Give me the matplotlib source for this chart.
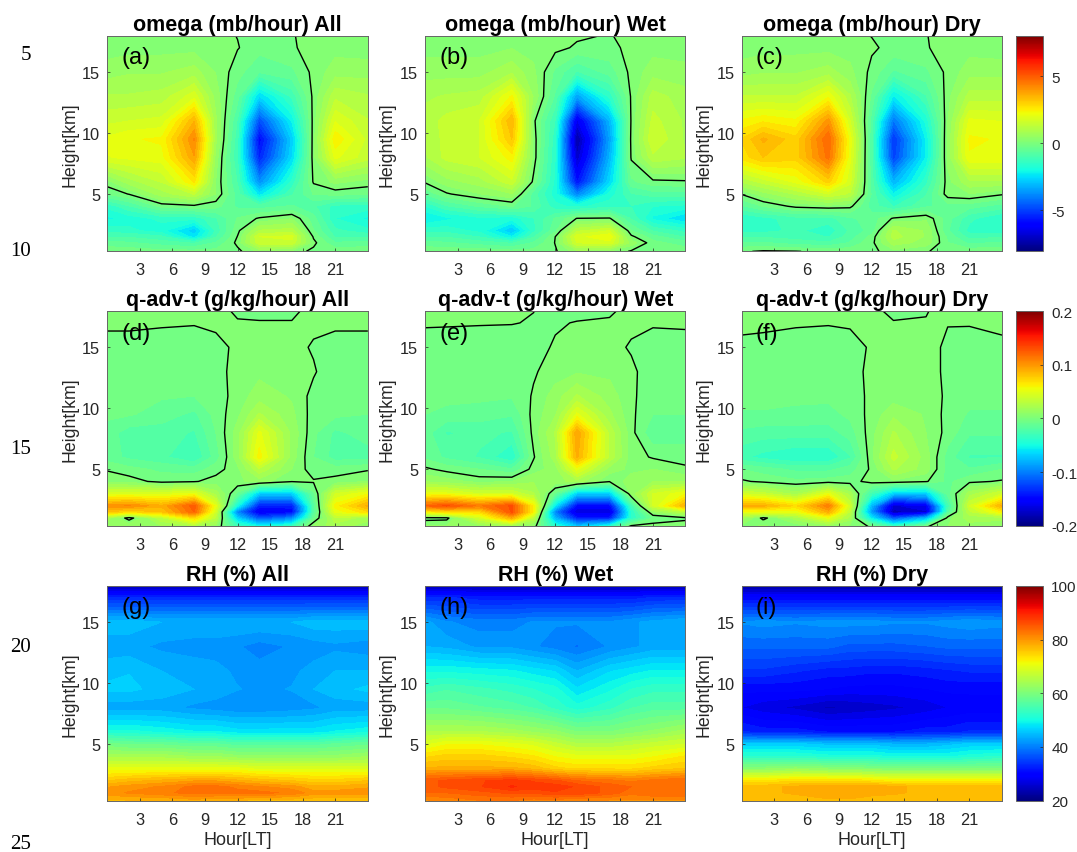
import numpy as np
import matplotlib
matplotlib.use("Agg")
import matplotlib.pyplot as plt
from matplotlib.cm import ScalarMappable
from matplotlib.colors import Normalize

plt.rcParams['font.family'] = ['Liberation Sans', 'DejaVu Sans']
plt.rcParams['axes.unicode_minus'] = False

hours = [0, 2, 5, 8, 10, 12, 14, 17, 19, 21, 24]
heights = [0.3, 1, 1.5, 2, 3, 4, 5, 6, 8, 9.5, 11, 13, 15, 17, 18]
xticks = [3, 6, 9, 12, 15, 18, 21]
yticks = [5, 10, 15]
page_numbers = ["5", "10", "15", "20", "25"]

# omega, rows go from the ground up
omega_all = [
    [-.1, -.1, -.2, -.2, -.2, -.1, .4, .2, -.1, -.1, -.1],
    [-.5, -.6, -.8, -1, -.6, .1, 1.5, 1.5, .1, -.6, -.5],
    [-1, -1, -1.2, -2.4, -1, .02, 1.6, 1.7, -.05, -1, -1],
    [-1.4, -1.5, -1.8, -2.8, -1.2, -.1, 1.0, 1.1, -.3, -1.2, -1.5],
    [-2, -1.8, -1.5, -1.5, -1, -.3, .05, .3, -.5, -1.6, -2],
    [-1.5, -1, -.2, -.1, -.2, -.7, -.8, -.6, -.9, -1.4, -1.4],
    [-.3, .02, .8, 1.3, .3, -.8, -2.4, -1, -.3, -.2, -.3],
    [.2, .8, 1.3, 2.6, .3, -1, -3.8, -1.5, .05, .4, .2],
    [1.9, 2, 2.1, 3.8, .5, -1.3, -5.5, -2.6, .2, 2, 1.4],
    [2, 2.2, 2.3, 4.2, .7, -1.2, -6, -2.8, .2, 2.5, 1.5],
    [1.5, 1.6, 1.7, 3.5, .7, -1, -4.8, -2.2, .15, 1.9, 1.3],
    [1, 1, 1.1, 1.8, .5, -.5, -2.6, -1.2, .1, 1.2, 1],
    [.5, .6, .6, .8, .3, -.2, -.6, -.4, .1, .5, .5],
    [.15, .2, .2, .2, .2, .02, -.2, -.05, .15, .2, .15],
    [.1, .1, .1, .1, .1, -.01, -.1, -.02, .1, .1, .1],
]
omega_wet = [
    [-.1, -.1, -.1, -.2, -.2, -.05, .5, .3, -.05, -.1, -.1],
    [-.5, -.6, -.8, -1, -.6, .02, 1.6, 1.8, .5, -.2, -.5],
    [-1, -1, -1.3, -2.2, -1, 0, 1.8, 2.2, .1, -.5, -1],
    [-1.4, -1.4, -1.7, -2.9, -1.4, -.4, 1.2, 1.6, -.3, -1, -1.4],
    [-2.3, -2, -1.7, -1.8, -1.3, -.6, .02, .05, -1, -2, -2.6],
    [-1.6, -1, -.6, -.3, -.7, -1.5, -1.7, -1.4, -1.3, -1.6, -1.7],
    [-.6, -.05, .3, .6, -.8, -1.8, -4, -1.8, -1, -.8, -.8],
    [.05, .5, .8, 1.5, -.1, -1.7, -5.8, -2.6, -.4, -.1, -.05],
    [.9, 1.4, 1.6, 2.4, .2, -1.6, -7, -3.2, .05, 1.2, 1],
    [1, 1.4, 1.6, 3.2, .2, -1.5, -7.5, -3.5, .1, 1.6, .9],
    [1.1, 1.4, 1.6, 3.5, .1, -1.3, -6.5, -3.2, .05, 1.4, .9],
    [.9, 1, 1.1, 2.3, .6, -.7, -3.5, -1.5, .05, 1.1, .8],
    [.5, .5, .5, .9, .4, -.4, -1, -.5, .1, .5, .4],
    [.2, .2, .2, .3, .2, .1, -.05, -.1, .1, .2, .2],
    [.1, .1, .1, .1, .1, .1, .05, -.02, .1, .1, .1],
]
omega_dry = [
    [-.05, .05, .02, -.1, -.1, -.1, .2, .02, -.1, -.1, -.05],
    [-.6, -.6, -.8, -.9, -.6, -.1, .8, .5, -.3, -.7, -.6],
    [-1, -1, -1.1, -1.3, -.8, -.2, 1.1, .6, -.4, -1.1, -1],
    [-1.4, -1.4, -1.2, -1.5, -.9, -.5, 1, .6, -.6, -1.4, -1.5],
    [-1.6, -1.4, -1.1, -1.1, -.7, -.5, .05, .25, -.5, -1.2, -1.6],
    [-.7, -.3, .1, .2, .1, -.8, -1.3, -.7, -.5, -.5, -.8],
    [.02, .5, 1, 1.6, 1.2, -.7, -2.2, -1, .2, .3, .05],
    [1, 1.4, 2, 3, 1.7, -.8, -3.2, -1.4, .2, .9, .9],
    [2.7, 3.2, 3, 4.6, 2, -.9, -5, -2.2, .4, 2.2, 2.2],
    [2.9, 3.6, 3, 4.8, 2.1, -.9, -5.2, -2.2, .4, 2.3, 2.2],
    [2.3, 2.5, 2.3, 4, 1.6, -.8, -4.2, -1.8, .3, 2, 1.9],
    [1.3, 1.3, 1.3, 2.2, 1, -.4, -2.3, -1, .2, 1.1, 1.1],
    [.5, .6, .6, .8, .4, -.1, -.7, -.4, .1, .5, .5],
    [.15, .2, .2, .2, .2, .05, -.1, -.02, .1, .2, .15],
    [.1, .1, .1, .1, .1, -.01, -.1, -.01, .1, .1, .1],
]

# q advection
qadv_all = [
    [.01, .015, .015, .02, .01, -.03, -.05, -.03, .01, .02, .01],
    [.02, -.005, .03, .07, .03, -.07, -.12, -.1, -.01, .03, .02],
    [.08, .07, .08, .12, .04, -.1, -.16, -.15, -.02, .05, .07],
    [.1, .105, .09, .125, .05, -.05, -.14, -.14, -.02, .06, .09],
    [.045, .045, .045, .05, .02, -.01, -.07, -.07, -.01, .04, .055],
    [.006, .004, -.003, -.001, .004, .006, .012, .001, .001, .003, .008],
    [-.001, -.005, -.01, -.012, -.004, .006, .03, .008, -.005, -.004, -.001],
    [-.012, -.018, -.022, -.032, -.012, .012, .06, .012, -.008, -.02, -.02],
    [-.012, -.02, -.02, -.025, -.008, .012, .05, .014, -.006, -.018, -.012],
    [-.006, -.007, -.012, -.018, -.005, .006, .025, .01, -.004, -.006, -.008],
    [-.006, -.006, -.007, -.008, -.005, .004, .012, .007, -.003, -.006, -.006],
    [-.005, -.005, -.006, -.006, -.003, .003, .006, .004, .001, -.006, -.005],
    [-.004, -.004, -.004, -.004, -.003, .002, .003, .003, -.001, -.004, -.004],
    [.002, .002, .001, .0005, .002, .0005, .0005, .0005, .002, .002, .002],
    [.003, .003, .003, .003, .002, -.001, -.002, -.002, .003, .003, .003],
]
qadv_wet = [
    [.01, .01, .01, .01, .005, -.04, -.07, -.04, .005, .005, .005],
    [-.004, -.003, .04, .09, .03, -.08, -.14, -.14, -.04, -.008, -.002],
    [.06, .07, .07, .13, .06, -.1, -.17, -.17, -.04, .01, .03],
    [.12, .13, .11, .13, .06, -.06, -.15, -.15, -.03, .04, .09],
    [.05, .05, .04, .04, .025, -.01, -.07, -.07, .01, .04, .055],
    [.015, .012, .005, .008, .015, .012, .02, .001, .012, .015, .015],
    [.002, -.003, -.008, -.015, .004, .012, .05, .012, .006, .008, .002],
    [-.01, -.018, -.025, -.04, -.001, .02, .09, .03, .004, -.001, -.004],
    [-.012, -.025, -.022, -.025, .003, .025, .095, .03, .003, -.015, -.012],
    [-.008, -.01, -.012, -.015, .003, .015, .05, .018, .002, -.008, -.008],
    [-.006, -.006, -.006, -.007, .001, .012, .025, .012, .002, -.006, -.006],
    [-.005, -.005, -.005, -.006, -.001, .004, .007, .006, .002, -.005, -.005],
    [-.004, -.004, -.004, -.004, -.003, .001, .003, .003, -.001, -.004, -.004],
    [.001, .0008, .0005, .0003, -.0005, -.001, .0005, .0008, .002, .001, .0015],
    [.003, .003, .002, .002, .0001, -.002, -.003, -.001, .002, .003, .003],
]
qadv_dry = [
    [.005, .01, .002, .01, .005, -.001, -.03, -.001, .008, .012, .005],
    [.02, -.003, .02, .05, .02, -.06, -.12, -.08, .005, .02, .02],
    [.05, .05, .05, .09, .03, -.09, -.18, -.17, -.02, .03, .06],
    [.09, .09, .07, .11, .04, -.08, -.17, -.16, -.03, .04, .09],
    [.04, .035, .02, .05, .02, -.03, -.07, -.07, -.012, .02, .04],
    [.0015, -.002, -.006, -.004, -.004, .004, .006, .001, -.01, -.002, .001],
    [-.008, -.012, -.018, -.018, -.012, .002, .025, .012, -.012, -.015, -.008],
    [-.03, -.035, -.04, -.04, -.025, .006, .035, .012, -.012, -.025, -.025],
    [-.018, -.02, -.02, -.02, -.012, .005, .025, .008, -.003, -.015, -.015],
    [-.009, -.009, -.01, -.011, -.006, .003, .014, .007, -.003, -.009, -.009],
    [-.005, -.005, -.006, -.006, -.004, .002, .004, .003, -.001, -.005, -.005],
    [-.004, -.004, -.005, -.005, -.003, .002, .003, .002, -.001, -.004, -.004],
    [-.002, -.003, -.004, -.004, -.003, .001, .002, .002, -.001, -.003, -.002],
    [.002, .002, .001, .0005, .001, .0005, .0005, .0005, .0002, .0005, .002],
    [.003, .003, .003, .003, .003, .002, -.002, -.0005, .003, .003, .003],
]

# relative humidity
rh_all = [
    [77, 77, 77, 78, 77, 77, 76, 76, 76, 76, 76],
    [80, 81, 82, 83, 83, 83, 83, 82, 80, 80, 80],
    [79, 80, 81, 83, 83, 82, 81, 80, 78, 78, 79],
    [76, 77, 78, 79, 79, 78, 77, 76, 75, 75, 76],
    [70, 70, 70, 70, 70, 70, 69, 69, 69, 69, 69],
    [64, 64, 64, 63, 63, 62, 62, 62, 62, 62, 63],
    [59, 58, 58, 57, 57, 56, 56, 56, 56, 57, 58],
    [51, 51, 50, 49, 49, 48, 48, 48, 48, 49, 50],
    [43, 43, 43, 42, 41.5, 41, 41, 41.5, 42, 43, 43],
    [46, 46, 45, 44, 43.5, 42.5, 42, 42.5, 44, 45, 46],
    [45, 45.5, 44, 43.5, 43, 42, 41.5, 42, 43, 44, 44],
    [43, 43, 42, 41.5, 41.5, 41, 40, 41, 41.5, 42, 41.5],
    [45, 45, 44, 44, 44, 44, 44, 44, 45, 45, 45],
    [33, 33, 33, 33, 33, 33, 33, 33, 33, 33, 33],
    [24, 24, 24, 24, 24, 24, 24, 24, 24, 24, 24],
]
rh_wet = [
    [80, 81, 82, 82, 81, 81, 80, 80, 80, 80, 80],
    [84, 84, 85, 86, 86, 87, 87, 85, 83, 84, 84],
    [85, 86, 87, 89, 88, 88, 87, 85, 84, 84, 84],
    [85, 86, 87, 88, 87, 86, 84, 83, 82, 83, 84],
    [78, 78, 78, 78, 77, 75, 74, 74, 74, 75, 76],
    [74, 75, 75, 74, 73, 71, 70, 70, 70, 71, 73],
    [69, 71, 71, 70, 69, 67, 65, 65, 66, 67, 68],
    [65, 65, 65, 64, 63, 62, 60, 60, 61, 62, 64],
    [58, 58, 57, 56, 55, 53, 51, 53, 55, 56, 56],
    [54, 55, 54, 53, 52, 51, 47.5, 50, 52, 53, 53],
    [50, 50, 49.5, 49, 48, 47, 44, 47, 48, 49, 49],
    [44, 43.5, 42, 42, 41, 40, 39, 41, 42, 43, 43],
    [43, 41, 40, 40, 41, 41, 41, 41, 42, 43, 44],
    [33, 33, 32, 32, 32, 32, 32, 32, 32, 33, 33],
    [23, 23, 23, 23, 23, 23, 23, 23, 23, 23, 23],
]
rh_dry = [
    [76, 77, 76, 77, 77, 76, 76, 76, 76, 76, 76],
    [77, 77, 78, 79, 79, 78.5, 78, 77, 77, 77, 77],
    [77, 77, 78, 79, 79, 79, 78, 77, 77, 77, 77],
    [73, 73, 74, 74, 74, 73, 72, 72, 72, 72, 72],
    [61, 61, 62, 61, 61, 60, 60, 60, 60, 60, 60],
    [52, 52, 52, 51, 51, 51, 50, 50, 50, 51, 52],
    [46, 46, 46, 45, 45, 45, 44, 44, 45, 46, 46],
    [33, 32, 32, 31, 31, 31, 31, 32, 32, 33, 33],
    [28, 27, 26, 24.5, 25, 25.5, 26, 27, 28, 28.5, 28.5],
    [30, 30, 30, 29.5, 29, 29, 29, 29.5, 30, 30, 30],
    [34, 34, 33, 32, 32, 31.5, 31.5, 32, 32.5, 33, 33],
    [38, 38, 38, 38, 37, 37, 37, 37.5, 38, 38, 38],
    [41, 41.5, 41, 41.5, 41.5, 41.5, 41, 41, 41.5, 42, 41.5],
    [30, 30, 30, 30, 30, 30, 30, 30, 30, 30, 30],
    [22, 22, 22, 22, 22, 22, 22, 22, 22, 22, 22],
]

W, H = 1077.0, 853.0
lefts = [107.3, 425, 741.5]
tops = [36.5, 311.7, 586.5]
ax_w, ax_h = 260.5, 215.5
grey = '#262626'

rows = [
    ("omega (mb/hour)", [omega_all, omega_wet, omega_dry], -8, 8, 0.32, [-5, 0, 5], ["-5", "0", "5"], True),
    ("q-adv-t (g/kg/hour)", [qadv_all, qadv_wet, qadv_dry], -0.2, 0.2, 0.008,
     [-0.2, -0.1, 0, 0.1, 0.2], ["-0.2", "-0.1", "0", "0.1", "0.2"], True),
    ("RH (%)", [rh_all, rh_wet, rh_dry], 20, 100, 1.6, [20, 40, 60, 80, 100], ["20", "40", "60", "80", "100"], False),
]
names = ["All", "Wet", "Dry"]
letters = "abcdefghi"

fig = plt.figure(figsize=(W / 100, H / 100), dpi=100)

for r, (title, panels, vmin, vmax, step, cticks, clabels, lines) in enumerate(rows):
    levels = np.arange(vmin, vmax + step / 2, step)
    for c, data in enumerate(panels):
        ax = fig.add_axes([lefts[c] / W, 1 - (tops[r] + ax_h) / H, ax_w / W, ax_h / H])
        ax.contourf(hours, heights, data, levels=levels, cmap='jet', vmin=vmin, vmax=vmax)
        if lines:
            ax.contour(hours, heights, data, levels=[0], colors='k', linewidths=1.0)
        ax.set_xlim(0, 24)
        ax.set_ylim(0.33, 18)
        ax.set_xticks(xticks)
        ax.set_yticks(yticks)
        ax.tick_params(direction='in', length=2.5, width=0.5, labelsize=11.8, colors=grey)
        ax.tick_params(axis='x', pad=8)
        ax.tick_params(axis='y', pad=5)
        for s in ax.spines.values():
            s.set_linewidth(0.7)
            s.set_color('#666666')
        ax.set_ylabel("Height[km]", fontsize=12.8, color=grey, labelpad=3)
        if r == 2:
            ax.set_xlabel("Hour[LT]", fontsize=13, color=grey, labelpad=3)
        ax.set_title(title + " " + names[c], fontsize=15.5, fontweight='bold', pad=4)
        ax.text(1.3, 16.2, "(" + letters[r * 3 + c] + ")", fontsize=17, ha='left', va='center')

    cax = fig.add_axes([1016 / W, 1 - (tops[r] + ax_h - 0.5) / H, 27 / W, (ax_h - 1) / H])
    cb = fig.colorbar(ScalarMappable(Normalize(vmin, vmax), 'jet'), cax=cax)
    cb.set_ticks(cticks)
    cb.set_ticklabels(clabels)
    cb.ax.tick_params(direction='in', length=2.5, width=0.5, labelsize=11, colors=grey, pad=6)
    cb.outline.set_linewidth(0.7)
    cb.outline.set_edgecolor('#666666')

# line numbers of the manuscript page
for txt, y in zip(page_numbers, [55, 252, 450, 648, 845]):
    fig.text(31 / W, 1 - y / H, txt, fontsize=15, family='Liberation Serif', ha='right', va='center')

fig.savefig("out.png", dpi=100)
